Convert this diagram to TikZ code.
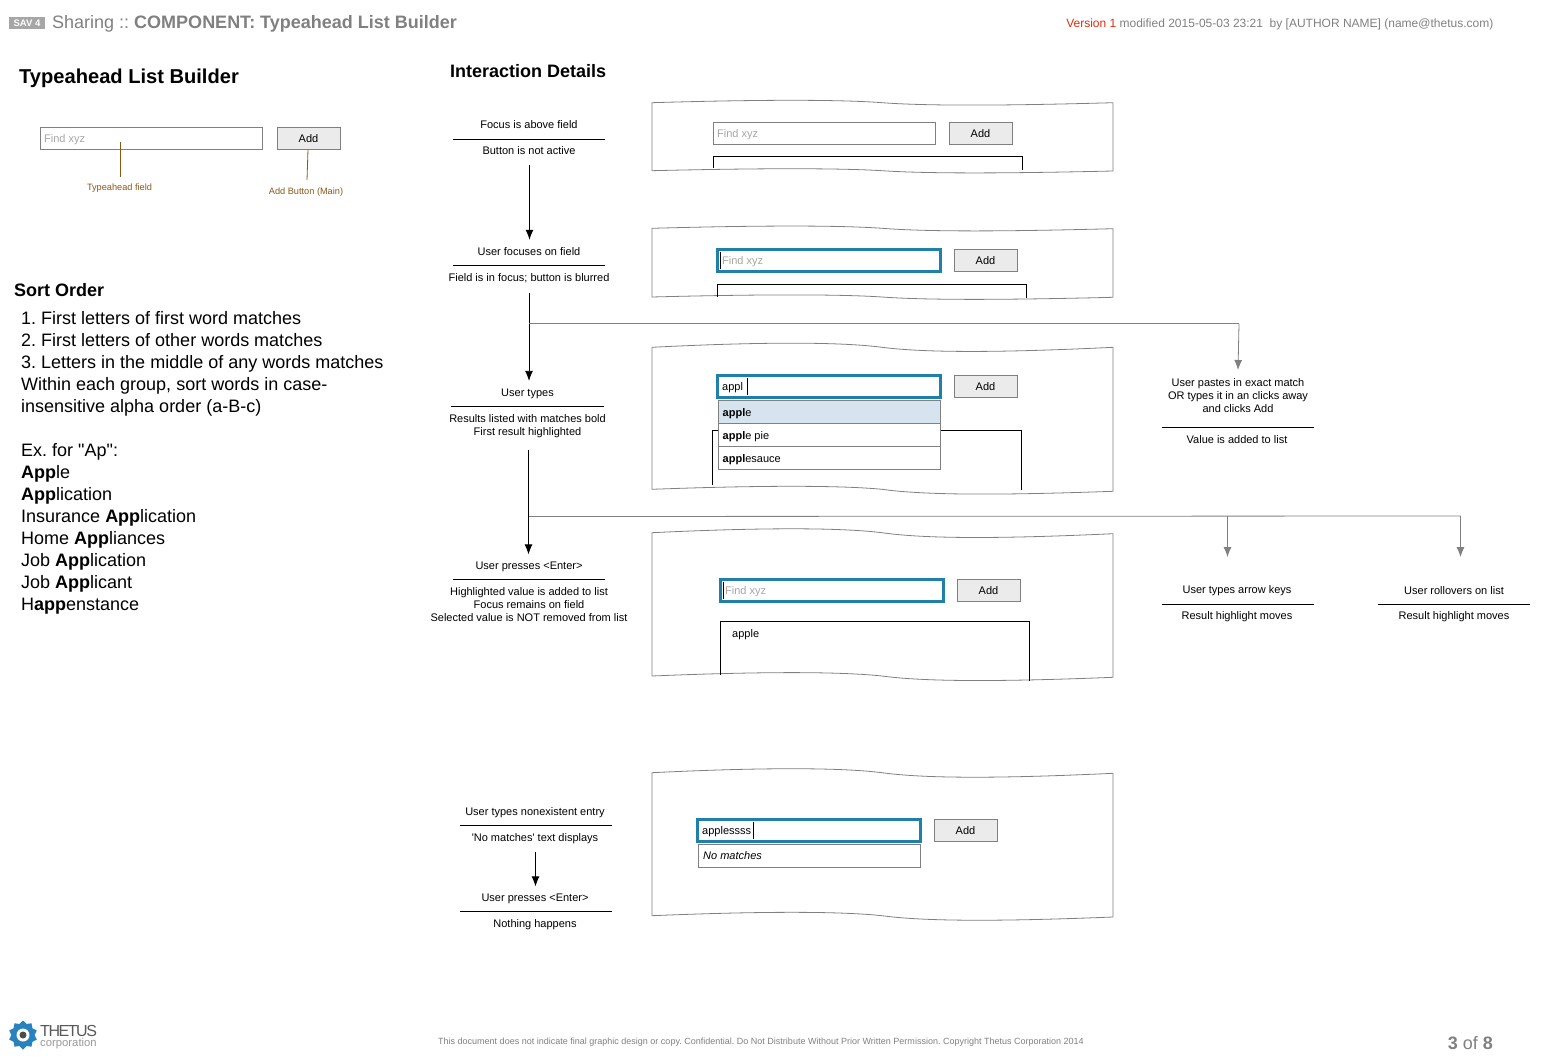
\documentclass[tikz,border=0pt]{standalone}
\usepackage{fontspec}
\setmainfont{Liberation Sans}[Ligatures=TeXOff]
\newfontfamily\logofont{Liberation Sans}[LetterSpace=-9]
\usetikzlibrary{arrows.meta,shapes.geometric}
\frenchspacing
\definecolor{focusblue}{RGB}{33,128,170}
\definecolor{rowblue}{RGB}{214,228,239}
\definecolor{notebrown}{RGB}{139,87,23}
\definecolor{headgray}{RGB}{128,128,128}
\definecolor{btngray}{RGB}{235,235,235}
\definecolor{logoblue}{RGB}{40,130,190}
\definecolor{versionred}{RGB}{220,45,15}
\tikzset{
  caption/.style={font=\fontsize{11}{13}\selectfont, align=center, inner sep=0pt},
  heading/.style={font=\bfseries\fontsize{18}{22}\selectfont, anchor=west, inner sep=0pt},
  bodytext/.style={font=\fontsize{18}{22}\selectfont, anchor=west, inner sep=0pt, text height=13pt, text depth=0pt},
  notelabel/.style={font=\fontsize{9.2}{11}\selectfont, text=notebrown, inner sep=0pt},
  field/.style={draw=gray, line width=0.8pt, fill=white, minimum width=222pt, minimum height=22pt, inner sep=0pt},
  focusfield/.style={draw=focusblue, line width=3.2pt, fill=white, minimum width=223pt, minimum height=21.5pt, inner sep=0pt},
  addbtn/.style={draw=gray, line width=0.8pt, fill=btngray, minimum width=63pt, minimum height=22pt, inner sep=0pt, font=\fontsize{11}{13}\selectfont},
  hint/.style={font=\fontsize{11}{13}\selectfont, text=gray!70, anchor=west, inner sep=0pt},
  entry/.style={font=\fontsize{11}{13}\selectfont, anchor=west, inner sep=0pt},
  listrow/.style={draw=gray, line width=0.8pt, fill=white, minimum width=222pt, minimum height=23pt, inner sep=0pt},
  rule/.style={line width=0.8pt},
  flow/.style={line width=0.8pt, shorten >=7.5pt, -{Latex[length=10pt,width=8pt]}},
  branch/.style={draw=gray, line width=0.8pt, -{Latex[length=10pt,width=8pt]}},
  sheet/.style={draw=gray, line width=0.8pt},
  listedge/.style={line width=0.8pt},
}
% left y, right y, wave depth of the top edge, then the same for the bottom edge
\newcommand{\tornsheet}[6]{%
  \draw[sheet] (652,#1) .. controls (760,#1-#3) and (840,#1-#3) .. (882,#1)
    .. controls (925,#2+#3) and (1000,#2+#3) .. (1113,#2)
    -- (1113,#5) .. controls (1000,#5+#6) and (925,#5+#6) .. (882,#4)
    .. controls (840,#4-#6) and (760,#4-#6) .. (652,#4) -- cycle;}
\begin{document}
\begin{tikzpicture}[x=1pt,y=-1pt]
\useasboundingbox (0,0) rectangle (1541,1062);

% header
\node[fill=gray!70, text=white, font=\bfseries\fontsize{9.5}{10}\selectfont, inner xsep=4.5pt, inner ysep=2.5pt] (sav) at (27,23) {SAV 4};
\node[font=\fontsize{18}{22}\selectfont, text=headgray, anchor=west, inner sep=0pt] (title) at (52,24) {Sharing :: \textbf{COMPONENT: Typeahead List Builder}};
\node[font=\fontsize{12}{14}\selectfont, text=headgray, anchor=east, inner sep=0pt] (version) at (1493.5,24) {\textcolor{versionred}{Version 1} modified 2015-05-03 23:21\ \ by [AUTHOR NAME] (name@thetus.com)};

% left column
\node[heading, font=\bfseries\fontsize{20.1}{22}\selectfont] (lefthead) at (19,78) {Typeahead List Builder};
\node[field] (leftfield) at (151.5,138.5) {};
\node[hint] (lefthint) at (44,139.5) {Find xyz};
\node[addbtn] (leftadd) at (308.5,138.5) {Add};
\coordinate (fieldnote) at (120.5,142);
\coordinate (addnote) at (308,149.5);
\node[notelabel] (fieldlabel) at (119.5,188) {Typeahead field};
\node[notelabel] (addlabel) at (306,192) {Add Button (Main)};
\draw[notebrown, line width=0.8pt] (fieldnote) -- (120.5,177);
\draw[notebrown, line width=0.8pt] (addnote) -- (307,180);

\node[heading] (sorthead) at (14,290) {Sort Order};
\node[bodytext] (s1) at (21,318) {1. First letters of first word matches};
\node[bodytext] (s2) at (21,340) {2. First letters of other words matches};
\node[bodytext] (s3) at (21,362) {3. Letters in the middle of any words matches};
\node[bodytext] (s4) at (21,384) {Within each group, sort words in case-};
\node[bodytext] (s5) at (21,406) {insensitive alpha order (a-B-c)};
\node[bodytext] (e0) at (21,450) {Ex. for "Ap":};
\node[bodytext] (e1) at (21,472) {\textbf{App}le};
\node[bodytext] (e2) at (21,494) {\textbf{App}lication};
\node[bodytext] (e3) at (21,516) {Insurance \textbf{App}lication};
\node[bodytext] (e4) at (21,538) {Home \textbf{App}liances};
\node[bodytext] (e5) at (21,560) {Job \textbf{App}lication};
\node[bodytext] (e6) at (21,582) {Job \textbf{App}licant};
\node[bodytext] (e7) at (21,604) {H\textbf{app}enstance};

% middle column
\node[heading] (midhead) at (450,71) {Interaction Details};

\node[caption] (a1) at (529,124.5) {Focus is above field};
\draw[rule] (453,139.5) -- (605,139.5);
\node[caption] (a2) at (529,150.5) {Button is not active};
\node[caption] (b1) at (529,251.5) {User focuses on field};
\draw[rule] (453,265.5) -- (605,265.5);
\node[caption] (b2) at (529,278) {Field is in focus; button is blurred};
\node[caption] (c1) at (527.5,393.5) {User types};
\draw[rule] (451,406.5) -- (604,406.5);
\node[caption] (c2) at (527.5,426) {Results listed with matches bold\\First result highlighted};
\node[caption] (d1) at (529,567) {User presses <Enter>};
\draw[rule] (453,579.5) -- (605,579.5);
\node[caption] (d2) at (529,604.5) {Highlighted value is added to list\\Focus remains on field\\Selected value is NOT removed from list};
\node[caption] (n1) at (535,813) {User types nonexistent entry};
\draw[rule] (460,825.5) -- (612,825.5);
\node[caption] (n2) at (535,839) {'No matches' text displays};
\node[caption] (n3) at (535,899) {User presses <Enter>};
\draw[rule] (460,911.5) -- (612,911.5);
\node[caption] (n4) at (535,925) {Nothing happens};

\coordinate (a3) at (529.5,165);
\coordinate (b3) at (529,293);
\coordinate (c3) at (528.5,450);
\coordinate (n5) at (535.5,852);
\draw[flow] (a3) -- (b1.north -| a3);
\draw[flow] (b3) -- (c1.north -| b3);
\draw[flow] (c3) -- (d1.north -| c3);
\draw[flow] (n5) -- (n3.north -| n5);

% right branches
\coordinate (b4) at (529,323.5);
\coordinate (b5) at (1239,323.5);
\coordinate (d4) at (529,516.5);
\coordinate (d5) at (1227.5,516);
\coordinate (d6) at (1460.5,516);
\node[caption] (p1) at (1238,395.5) {User pastes in exact match\\OR types it in an clicks away\\and clicks Add};
\draw[rule] (1162,427.5) -- (1314,427.5);
\node[caption] (p2) at (1237,439.5) {Value is added to list};
\node[caption] (q1) at (1237,591) {User types arrow keys};
\draw[rule] (1162,604.5) -- (1314,604.5);
\node[caption] (q2) at (1237,617) {Result highlight moves};
\node[caption] (r1) at (1454,590.5) {User rollovers on list};
\draw[rule] (1378,604.5) -- (1530,604.5);
\node[caption] (r2) at (1454,616.5) {Result highlight moves};
\draw[gray, line width=0.8pt] (b4) -- (b5);
\draw[branch] (b5) -- (1238,370);
\draw[gray, line width=0.8pt] (d4) -- (d6);
\draw[branch] (d5) -- (1227.5,557);
\draw[branch] (d6) -- (1460.5,557);

% sheet 1
\tornsheet{102.7}{102.7}{3.2}{170.7}{171}{2.6}
\node[field] (f1) at (824,133.5) {};
\node[hint] (h1) at (717,135) {Find xyz};
\node[addbtn] (add1) at (980.5,133.5) {Add};
\draw[listedge] (713.5,168) -- (713.5,156) -- (1022.5,156) -- (1022.5,169.5);

% sheet 2
\tornsheet{228.3}{228.7}{3}{297}{297.3}{2.8}
\node[focusfield] (f2) at (829,260.5) {};
\node[hint] (h2) at (722,262) {Find xyz};
\draw[line width=0.8pt] (720.5,252) -- (720.5,269);
\node[addbtn] (add2) at (985.5,260.5) {Add};
\draw[listedge] (717.5,297) -- (717.5,284.5) -- (1026.5,284.5) -- (1026.5,298);

% sheet 3
\tornsheet{347.3}{347.3}{5.5}{489.3}{491.3}{4}
\draw[listedge] (712.5,484.5) -- (712.5,430.5) -- (1021.5,430.5) -- (1021.5,490);
\node[focusfield] (f3) at (829,386.5) {};
\node[entry] (h3) at (722,388) {appl};
\draw[line width=0.8pt] (747.5,378) -- (747.5,395);
\node[addbtn] (add3) at (985.5,386.5) {Add};
\node[listrow, fill=rowblue] (row1) at (829.5,412) {};
\node[listrow] (row2) at (829.5,435) {};
\node[listrow] (row3) at (829.5,458) {};
\node[entry] (t1) at (722.5,414) {\textbf{appl}e};
\node[entry] (t2) at (722.5,437) {\textbf{appl}e pie};
\node[entry] (t3) at (722.5,460) {\textbf{appl}esauce};

% sheet 4
\tornsheet{532.7}{533.7}{5.2}{676}{677.3}{4.5}
\node[focusfield] (f4) at (832,590.5) {};
\node[hint] (h4) at (725,592) {Find xyz};
\draw[line width=0.8pt] (723.5,582) -- (723.5,599);
\node[addbtn] (add4) at (988.5,590.5) {Add};
\draw[listedge] (720.5,675) -- (720.5,621.5) -- (1029.5,621.5) -- (1029.5,681);
\node[entry] (v1) at (732,635) {apple};

% sheet 5
\tornsheet{772.7}{773.3}{5.3}{915.7}{917}{4.5}
\node[focusfield] (f5) at (809,830.5) {};
\node[entry] (h5) at (702,832) {applessss};
\draw[line width=0.8pt] (753.5,822) -- (753.5,839);
\node[addbtn] (add5) at (965.5,830.5) {Add};
\node[listrow] (row5) at (809.5,855.8) {};
\node[entry] (t5) at (703,855.5) {\textit{No matches}};

% footer
\node[star, star points=10, star point ratio=1.25, fill=logoblue, minimum size=29pt, inner sep=0pt] (logo) at (23,1035) {};
\node[circle, fill=white, minimum size=13pt, inner sep=0pt] (logoring) at (23,1035) {};
\node[circle, fill=black!70, minimum size=7pt, inner sep=0pt] (logodot) at (23,1035) {};
\node[font=\logofont\fontsize{16}{18}\selectfont, text=black!65, anchor=west, inner sep=0pt] (thetus) at (40,1031) {THETUS};
\node[font=\fontsize{11.3}{13}\selectfont, text=gray!80, anchor=west, inner sep=0pt] (corp) at (40,1044) {corporation};
\node[font=\fontsize{9.01}{11}\selectfont, text=headgray, inner sep=0pt] (legal) at (761,1042) {This document does not indicate final graphic design or copy. Confidential. Do Not Distribute Without Prior Written Permission. Copyright Thetus Corporation 2014};
\node[font=\fontsize{18}{22}\selectfont, text=headgray, anchor=east, inner sep=0pt] (page) at (1493,1043) {\textbf{3} of \textbf{8}};
\end{tikzpicture}
\end{document}
